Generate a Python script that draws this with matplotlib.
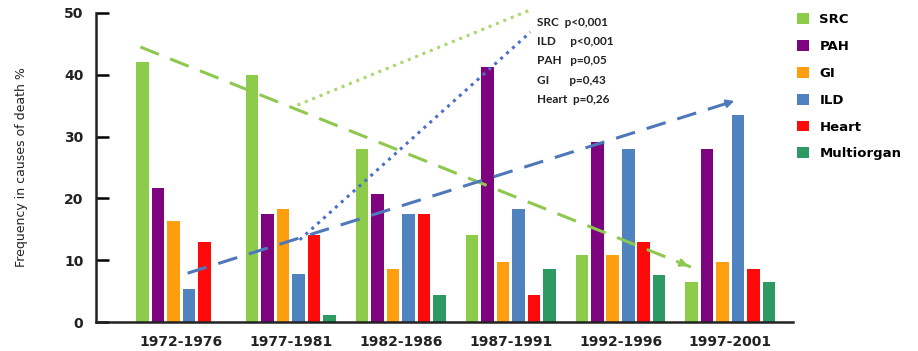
import numpy as np
from matplotlib import pyplot as plt

periods = ['1972-1976', '1977-1981', '1982-1986', '1987-1991', '1992-1996', '1997-2001']
causes = ['SRC', 'PAH', 'GI', 'ILD', 'Heart', 'Multiorgan']
colors = ['#8DCB4B', '#7E037F', '#FF9E0E', '#4F83C0', '#FF0A0A', '#2E9A63']

src = [42, 40, 28, 14, 10.8, 6.5]
pah = [21.7, 17.4, 20.7, 41.3, 29.2, 28]
gi = [16.3, 18.3, 8.6, 9.7, 10.8, 9.7]
ild = [5.4, 7.7, 17.4, 18.3, 28, 33.5]
heart = [12.9, 14, 17.4, 4.4, 12.9, 8.6]
multiorgan = [0, 1.1, 4.3, 8.6, 7.6, 6.5]

pvalues = ['SRC  p<0,001', 'ILD     p<0,001', 'PAH   p=0,05', 'GI       p=0,43', 'Heart  p=0,26']

# trend arrows (start, end) in data coordinates
src_trend = [(-0.37, 44.5), (4.64, 8.9)]
ild_trend = [(0.06, 7.9), (5.06, 35.9)]
src_dotted = [(1.06, 35.1), (3.18, 50.5)]
ild_dotted = [(1.08, 13.3), (3.18, 46.9)]

series = [src, pah, gi, ild, heart, multiorgan]

fig = plt.figure(figsize=(9.18, 3.51), dpi=100)
ax = fig.add_axes([96/918, 29/351, 697/918, 309/351])

x = np.arange(len(periods))
step, width = 0.141, 0.114
for k, (vals, name, c) in enumerate(zip(series, causes, colors)):
    ax.bar(x + (k - 2.5)*step, vals, width, color=c, label=name, zorder=2)

def trend(pts, color, ls, arrow=False):
    (x0, y0), (x1, y1) = pts
    ax.plot([x0, x1], [y0, y1], color=color, lw=2.2, linestyle=ls, clip_on=False, zorder=3)
    if arrow:
        ax.annotate('', xy=(x1, y1), xytext=(x1 - (x1-x0)*0.03, y1 - (y1-y0)*0.03),
                    arrowprops=dict(arrowstyle='-|>', color=color, lw=1.5, mutation_scale=12),
                    annotation_clip=False, zorder=3)

trend(src_trend, '#8DC84F', (0, (6.5, 4)), arrow=True)
trend(ild_trend, '#4E78BA', (0, (6.5, 4)), arrow=True)
trend(src_dotted, '#A9D86E', (0, (1, 1.6)))
trend(ild_dotted, '#4A6FC8', (0, (1, 1.6)))

ax.set_xlim(-0.774, 5.57)
ax.set_ylim(0, 50)
ax.set_yticks([0, 10, 20, 30, 40, 50])
ax.set_xticks(x)
ax.set_xticklabels(periods)
ax.tick_params(axis='x', length=0, pad=9, labelsize=10, labelcolor='#222222')
ax.tick_params(axis='y', direction='in', length=9.5, width=1.8, pad=9, labelsize=10, labelcolor='#222222')
for lab in ax.get_xticklabels() + ax.get_yticklabels():
    lab.set_fontweight('bold')
for s in ['top', 'right']:
    ax.spines[s].set_visible(False)
for s in ['left', 'bottom']:
    ax.spines[s].set_linewidth(1.8)
    ax.spines[s].set_color('#222222')

ax.set_ylabel('Frequency in causes of death %', fontsize=9, color='#222222')
ax.yaxis.set_label_coords(-0.098, 0.5)

for i, t in enumerate(pvalues):
    fig.text(537/918, 1 - (22 + 19.5*i)/351, t, fontsize=8.5, family='Lato', fontweight='bold',
             color='#222222', va='center', ha='left')

ax.legend(loc='upper left', bbox_to_anchor=(797/918, 1 - 13/351), bbox_transform=fig.transFigure,
          frameon=False, handlelength=0.9, handleheight=0.9, handletextpad=0.8,
          labelspacing=1.05, borderaxespad=0, borderpad=0,
          prop={'weight': 'bold', 'size': 9.5})

plt.savefig('out.png', dpi=100)
